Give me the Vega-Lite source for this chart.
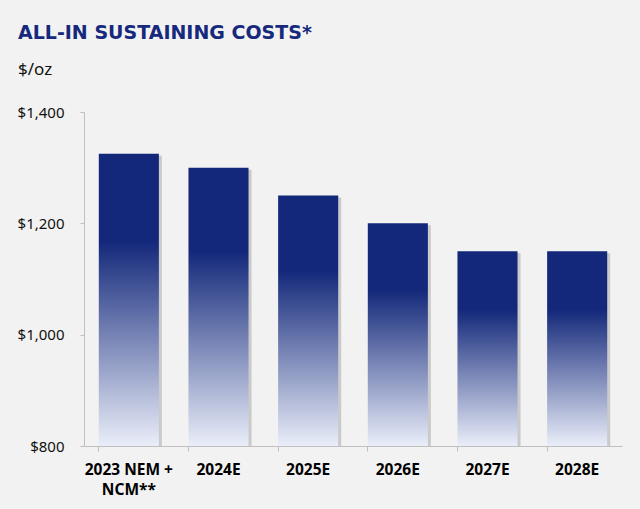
{
  "$schema": "https://vega.github.io/schema/vega-lite/v6.json",
  "width": 538,
  "height": 334,
  "autosize": "none",
  "padding": {"left": 84, "top": 112, "right": 18, "bottom": 63},
  "background": "#f2f2f2",
  "title": {
    "text": "ALL-IN SUSTAINING COSTS*",
    "subtitle": "$/oz",
    "anchor": "start",
    "frame": "group",
    "dx": -66,
    "offset": 27,
    "font": "DejaVu Sans",
    "fontSize": 19,
    "fontWeight": "bold",
    "color": "#16297d",
    "subtitleFont": "Noto Sans",
    "subtitleFontSize": 17,
    "subtitleColor": "#111111",
    "subtitlePadding": 19
  },
  "config": {"view": {"stroke": null}},
  "data": {
    "values": [
      {"year": "2023 NEM + NCM**", "cost": 1325},
      {"year": "2024E", "cost": 1300},
      {"year": "2025E", "cost": 1250},
      {"year": "2026E", "cost": 1200},
      {"year": "2027E", "cost": 1150},
      {"year": "2028E", "cost": 1150}
    ]
  },
  "encoding": {
    "x": {
      "field": "year",
      "type": "nominal",
      "sort": null,
      "scale": {"paddingInner": 0.33, "paddingOuter": 0.165},
      "axis": {
        "title": null,
        "labelAngle": 0,
        "labelFont": "Noto Sans",
        "labelFontSize": 15.5,
        "labelFontWeight": "bold",
        "labelColor": "#000000",
        "labelPadding": 11,
        "labelLineHeight": 20,
        "labelExpr": "datum.value == '2023 NEM + NCM**' ? ['2023 NEM +', 'NCM**'] : datum.value",
        "bandPosition": 0,
        "tickSize": 5,
        "tickColor": "#bfbfbf",
        "domainColor": "#bfbfbf",
        "labelBaseline": "top",
        "zindex": 1
      }
    },
    "y": {
      "field": "cost",
      "type": "quantitative",
      "scale": {"domain": [800, 1400], "zero": false, "nice": false},
      "axis": {
        "title": null,
        "values": [800, 1000, 1200, 1400],
        "format": "$,.0f",
        "grid": false,
        "labelFont": "Noto Sans",
        "labelFontSize": 15,
        "labelColor": "#111111",
        "labelPadding": 16,
        "tickSize": 4,
        "tickColor": "#bfbfbf",
        "domainColor": "#bfbfbf",
        "zindex": 1
      }
    },
    "y2": {"datum": 800}
  },
  "layer": [
    {
      "mark": {"type": "bar", "xOffset": 3, "yOffset": 2, "y2Offset": 0, "color": "#9a9a9a", "opacity": 0.45}
    },
    {
      "mark": {
        "type": "bar",
        "color": {
          "gradient": "linear",
          "x1": 0, "y1": 0, "x2": 0, "y2": 1,
          "stops": [
            {"offset": 0, "color": "#13287a"},
            {"offset": 0.3, "color": "#13287a"},
            {"offset": 1, "color": "#eaeef9"}
          ]
        }
      }
    }
  ]
}
